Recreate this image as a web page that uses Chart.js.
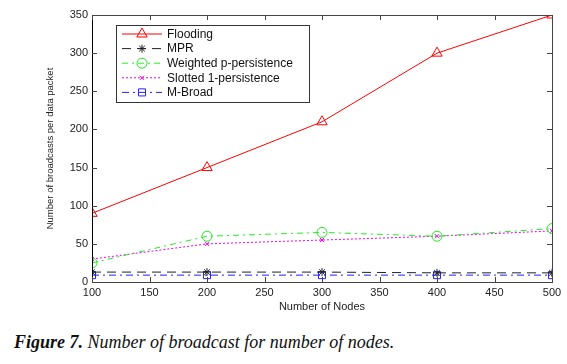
<!DOCTYPE html>
<html><head><meta charset="utf-8">
<script src="https://cdn.jsdelivr.net/npm/chart.js@4/dist/chart.umd.min.js"></script>
<style>
html,body{margin:0;padding:0;background:#fff;width:567px;height:364px;overflow:hidden;position:relative}
#wrap{position:absolute;left:0;top:0;width:567px;height:320px}
#cap{position:absolute;left:14px;top:332px;font-family:"Liberation Serif","DejaVu Serif",serif;font-style:italic;font-size:18px;color:#111;white-space:nowrap}
#cap b{font-weight:bold}
</style></head><body>
<div id="wrap"><canvas id="c" width="567" height="320"></canvas></div>
<div id="cap"><b>Figure 7.</b> Number of broadcast for number of nodes.</div>
<script>
const nodes = [100, 200, 300, 400, 500];
const seriesNames = ["Flooding", "MPR", "Weighted p-persistence", "Slotted 1-persistence", "M-Broad"];
const flooding = [90, 150, 210, 300, 350];
const mpr = [13, 13, 13, 12, 12];
const weighted = [25, 60, 65, 60, 70];
const slotted = [30, 50, 55, 60, 67];
const mbroad = [9, 9, 9, 9, 9];
const xTicks = [100, 150, 200, 250, 300, 350, 400, 450, 500];
const yTicks = [0, 50, 100, 150, 200, 250, 300, 350];

const pts = arr => arr.map((v, i) => ({x: nodes[i], y: v}));
const styles = [
  {c:'#ff0000', dash:[], ps:'triangle', r:6},
  {c:'#222222', dash:[9,6], ps:'star', r:4},
  {c:'#22ee22', dash:[6,4,2,4], ps:'circle', r:5},
  {c:'#ee00ee', dash:[2,2], ps:'crossRot', r:3},
  {c:'#2020ff', dash:[7,4,2,4], ps:'rect', r:5}
];
const values = [flooding, mpr, weighted, slotted, mbroad];
const datasets = values.map((v, i) => ({
  label: seriesNames[i], data: pts(v),
  borderColor: styles[i].c, backgroundColor: 'rgba(0,0,0,0)',
  borderWidth: 1, borderDash: styles[i].dash,
  pointStyle: styles[i].ps, pointRadius: styles[i].r,
  pointBorderColor: styles[i].c, pointBackgroundColor: 'rgba(0,0,0,0)', pointBorderWidth: 1,
  tension: 0
}));

const framePlugin = {
  id: 'frame',
  afterDraw(chart) {
    const ctx = chart.ctx, a = chart.chartArea, xs = chart.scales.x, ys = chart.scales.y;
    ctx.save();
    ctx.lineWidth = 1;
    ctx.strokeStyle = '#444';
    ctx.strokeRect(Math.round(a.left)+0.5, Math.round(a.top)+0.5, Math.round(a.right-a.left), Math.round(a.bottom-a.top));
    ctx.strokeStyle = '#000';
    ctx.beginPath(); ctx.moveTo(Math.round(a.left)+0.5, a.top); ctx.lineTo(Math.round(a.left)+0.5, a.bottom); ctx.stroke();
    ctx.strokeStyle = '#444';
    ctx.beginPath();
    xTicks.forEach(t => { const x = Math.round(xs.getPixelForValue(t))+0.5;
      ctx.moveTo(x, a.bottom); ctx.lineTo(x, a.bottom-5); ctx.moveTo(x, a.top); ctx.lineTo(x, a.top+5); });
    yTicks.forEach(t => { const y = Math.round(ys.getPixelForValue(t))+0.5;
      ctx.moveTo(a.left, y); ctx.lineTo(a.left+5, y); ctx.moveTo(a.right, y); ctx.lineTo(a.right-5, y); });
    ctx.stroke();
    // legend box
    const lx = 116, ly = 25, lw = 193, lh = 77;
    ctx.fillStyle = '#fff';
    ctx.fillRect(lx, ly, lw, lh);
    ctx.strokeStyle = '#333';
    ctx.strokeRect(lx+0.5, ly+0.5, lw, lh);
    ctx.font = '12px "Liberation Sans", Arial, sans-serif';
    ctx.textBaseline = 'middle';
    chart.data.datasets.forEach((ds, i) => {
      const y = ly + 9 + i * 14.6;
      ctx.strokeStyle = ds.borderColor; ctx.setLineDash(ds.borderDash); ctx.lineWidth = 1;
      ctx.beginPath(); ctx.moveTo(122, y); ctx.lineTo(162, y); ctx.stroke();
      ctx.setLineDash([]);
      ctx.fillStyle = 'rgba(0,0,0,0)';
      ctx.strokeStyle = ds.borderColor;
      Chart.helpers.drawPoint(ctx, {pointStyle: ds.pointStyle, radius: ds.pointRadius, borderWidth: 1, rotation: 0}, 142, y);
      ctx.fillStyle = '#111';
      ctx.fillText(ds.label, 167, y + 0.5);
    });
    ctx.restore();
  }
};

new Chart(document.getElementById('c'), {
  type: 'line',
  data: { datasets },
  options: {
    responsive: false, animation: false,
    layout: { padding: { left: 0, top: 15, right: 15, bottom: 0 } },
    plugins: { legend: { display: false }, tooltip: { enabled: false } },
    scales: {
      x: {
        type: 'linear', min: 100, max: 500,
        afterBuildTicks: s => { s.ticks = xTicks.map(v => ({value: v})); },
        afterFit: s => { s.height = 38; },
        grid: { display: false, drawTicks: false }, border: { display: false },
        ticks: { color: '#222', font: { size: 11, family: '"Liberation Sans", Arial, sans-serif' }, padding: 4, maxRotation: 0 },
        title: { display: true, text: 'Number of Nodes', color: '#222', font: { size: 11, family: '"Liberation Sans", Arial, sans-serif' }, padding: { top: 0, bottom: 6 } }
      },
      y: {
        type: 'linear', min: 0, max: 350,
        afterBuildTicks: s => { s.ticks = yTicks.map(v => ({value: v})); },
        afterFit: s => { s.width = 92; },
        grid: { display: false, drawTicks: false }, border: { display: false },
        ticks: { color: '#222', font: { size: 11, family: '"Liberation Sans", Arial, sans-serif' }, padding: 4 },
        title: { display: true, text: 'Number of broadcasts per data packet', color: '#222', font: { size: 9.5, family: '"Liberation Sans", Arial, sans-serif' }, padding: { top: 45, bottom: 0 } }
      }
    }
  },
  plugins: [framePlugin]
});
</script>
</body></html>
